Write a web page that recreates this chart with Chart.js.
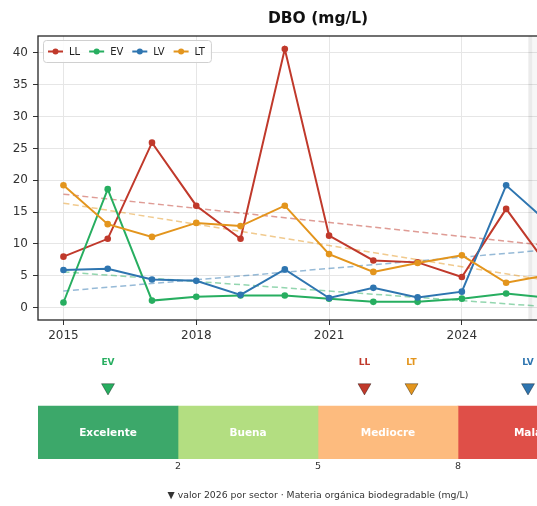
<!DOCTYPE html>
<html>
<head>
<meta charset="utf-8">
<script src="https://cdn.jsdelivr.net/npm/chart.js@4.4.1/dist/chart.umd.min.js"></script>
<style>
  html, body { margin: 0; padding: 0; background: #fff; overflow: hidden; }
  #wrap { width: 640px; }
  canvas { display: block; }
</style>
</head>
<body>
<div id="wrap">
  <canvas id="dboChart" width="640" height="350"></canvas>
  <canvas id="escalaChart" width="640" height="156"></canvas>
</div>
<script>
// Datos (DBO, mg/L)
const anios = [2015, 2016, 2017, 2018, 2019, 2020, 2021, 2022, 2023, 2024, 2025, 2026];
const sectores = ['LL', 'EV', 'LV', 'LT'];
const colores = ['#c0392b', '#27ae60', '#2e75b0', '#e3951d'];

const dboLL = [8.0, 10.8, 25.9, 16.0, 10.8, 40.6, 11.3, 7.4, 7.1, 4.8, 15.5, 6.0];
const dboEV = [0.8, 18.6, 1.1, 1.7, 1.9, 1.9, 1.4, 0.9, 0.9, 1.4, 2.2, 1.5];
const dboLV = [5.9, 6.1, 4.4, 4.2, 2.0, 6.0, 1.5, 3.1, 1.6, 2.5, 19.2, 13.0];
const dboLT = [19.2, 13.1, 11.1, 13.3, 12.8, 16.0, 8.4, 5.6, 7.0, 8.2, 3.9, 5.2];

// tendencias (valor en 2015 y en 2026)
const tendInicio = [17.8, 5.6, 2.6, 16.4];
const tendFin = [9.7, 0.1, 9.1, 4.2];

const xTicks = [2015, 2018, 2021, 2024, 2027];
const yTicks = [0, 5, 10, 15, 20, 25, 30, 35, 40];

// escala de calidad
const clases = ['Excelente', 'Buena', 'Mediocre', 'Mala'];
const umbrales = [2, 5, 8];
const coloresClase = ['#3ca86a', '#b3de81', '#fdbb7e', '#df4f48'];

const FUENTE = '"DejaVu Sans", sans-serif';
const series = [dboLL, dboEV, dboLV, dboLT];

function conAlpha(hex, a) {
  const n = parseInt(hex.slice(1), 16);
  return `rgba(${(n >> 16) & 255}, ${(n >> 8) & 255}, ${n & 255}, ${a})`;
}

// ---------- gráfico principal ----------
const datasets = [];
sectores.forEach((s, i) => {
  datasets.push({
    label: s,
    data: anios.map((a, k) => ({ x: a, y: series[i][k] })),
    borderColor: colores[i],
    backgroundColor: colores[i],
    borderWidth: 2,
    pointRadius: 3.3,
    pointBorderWidth: 0,
    tension: 0,
    order: 4 - i
  });
});
sectores.forEach((s, i) => {
  datasets.push({
    label: s + ' tendencia',
    data: [{ x: anios[0], y: tendInicio[i] }, { x: anios[anios.length - 1], y: tendFin[i] }],
    borderColor: conAlpha(colores[i], 0.5),
    borderWidth: 1.5,
    borderDash: [6, 3.5],
    pointRadius: 0,
    order: 10
  });
});

const fondoProyeccion = {
  id: 'fondoProyeccion',
  beforeDatasetsDraw(chart) {
    const { ctx, chartArea, scales } = chart;
    const x0 = scales.x.getPixelForValue(2025.5);
    const x1 = scales.x.getPixelForValue(2026.5);
    ctx.save();
    ctx.fillStyle = 'rgba(0,0,0,0.03)';
    ctx.fillRect(x0, chartArea.top, x1 - x0, chartArea.bottom - chartArea.top);
    ctx.fillStyle = 'rgba(0,0,0,0.05)';
    ctx.fillRect(x0, chartArea.top, 4, chartArea.bottom - chartArea.top);
    ctx.restore();
  }
};

const marcoYTitulo = {
  id: 'marcoYTitulo',
  afterDatasetsDraw(chart) {
    const { ctx, chartArea } = chart;
    ctx.save();
    ctx.strokeStyle = '#262626';
    ctx.lineWidth = 1.3;
    ctx.strokeRect(chartArea.left, chartArea.top, chartArea.right - chartArea.left, chartArea.bottom - chartArea.top);

    ctx.fillStyle = '#111';
    ctx.font = 'bold 15.5px ' + FUENTE;
    ctx.textAlign = 'center';
    ctx.textBaseline = 'middle';
    ctx.fillText('DBO (mg/L)', (chartArea.left + chartArea.right) / 2, 19);

    // leyenda
    ctx.font = '10px ' + FUENTE;
    ctx.textAlign = 'left';
    const bx = chartArea.left + 5, by = chartArea.top + 4, bh = 22;
    let x = bx + 5;
    const items = sectores.map(s => {
      const w = ctx.measureText(s).width;
      const it = { s, x, w };
      x += 15 + 6 + w + 9;
      return it;
    });
    const bw = x - 9 + 6 - bx;
    ctx.fillStyle = 'rgba(255,255,255,0.85)';
    ctx.strokeStyle = '#d0d0d0';
    ctx.lineWidth = 1;
    ctx.beginPath();
    ctx.roundRect(bx + 0.5, by + 0.5, bw, bh, 3);
    ctx.fill();
    ctx.stroke();
    const cy = by + bh / 2 + 0.5;
    items.forEach((it, i) => {
      ctx.strokeStyle = colores[i];
      ctx.fillStyle = colores[i];
      ctx.lineWidth = 2;
      ctx.beginPath();
      ctx.moveTo(it.x, cy);
      ctx.lineTo(it.x + 15, cy);
      ctx.stroke();
      ctx.beginPath();
      ctx.arc(it.x + 7.5, cy, 3, 0, Math.PI * 2);
      ctx.fill();
      ctx.fillStyle = '#222';
      ctx.fillText(it.s, it.x + 21, cy + 0.5);
    });
    ctx.restore();
  }
};

new Chart(document.getElementById('dboChart'), {
  type: 'line',
  data: { datasets },
  options: {
    responsive: false,
    animation: false,
    events: [],
    layout: { padding: { top: 36, right: 42, left: 0, bottom: 0 } },
    plugins: { legend: { display: false }, tooltip: { enabled: false } },
    scales: {
      x: {
        type: 'linear',
        min: 2014.425,
        max: 2027.075,
        afterBuildTicks: s => { s.ticks = xTicks.map(v => ({ value: v })); },
        afterFit: s => { s.height = 30; },
        border: { display: false },
        grid: { color: '#e6e6e6', tickColor: '#333', tickLength: 5, lineWidth: 1 },
        ticks: { color: '#333', font: { family: FUENTE, size: 12 }, padding: 4, maxRotation: 0, callback: v => String(v) }
      },
      y: {
        min: -1.95,
        max: 42.65,
        afterBuildTicks: s => { s.ticks = yTicks.map(v => ({ value: v })); },
        afterFit: s => { s.width = 38; },
        border: { display: false },
        grid: { color: '#e6e6e6', tickColor: '#333', tickLength: 5, lineWidth: 1 },
        ticks: { color: '#333', font: { family: FUENTE, size: 12 }, padding: 5, callback: v => String(v) }
      }
    }
  },
  plugins: [fondoProyeccion, marcoYTitulo]
});

// ---------- escala de calidad con valor 2026 ----------
const valores2026 = series.map(s => s[s.length - 1]);
const claseDe = v => umbrales.filter(u => v >= u).length;
const clasesSector = valores2026.map(claseDe);
const posMarcador = clasesSector.map((c, i) => {
  const grupo = clasesSector.map((cc, k) => cc === c ? k : -1).filter(k => k >= 0);
  const j = grupo.indexOf(i);
  return c + 0.5 + (j - (grupo.length - 1) / 2) * 0.336;
});

// fila superior: marcadores, fila inferior: barra de clases
const escalaDatasets = clases.map((c, i) => ({
  type: 'bar',
  indexAxis: 'y',
  label: c,
  data: [null, 1],
  backgroundColor: coloresClase[i],
  borderWidth: 0,
  categoryPercentage: 1,
  barPercentage: 1,
  xAxisID: 'x',
  yAxisID: 'y'
}));
escalaDatasets.push({
  type: 'scatter',
  label: 'valor 2026',
  data: posMarcador.map(p => ({ x: p, y: 1.35 })),
  pointStyle: 'triangle',
  rotation: 180,
  pointRadius: 7.5,
  backgroundColor: colores,
  borderColor: 'rgba(0,0,0,0.4)',
  borderWidth: 0.9,
  clip: false,
  xAxisID: 'x',
  yAxisID: 'yM'
});

const textosEscala = {
  id: 'textosEscala',
  afterDatasetsDraw(chart) {
    const { ctx, chartArea } = chart;
    ctx.save();
    ctx.textAlign = 'center';
    ctx.textBaseline = 'middle';
    ctx.font = 'bold 10.5px ' + FUENTE;
    ctx.fillStyle = '#fff';
    clases.forEach((c, i) => {
      const el = chart.getDatasetMeta(i).data[1];
      ctx.fillText(c, (el.x + el.base) / 2, el.y + 1);
    });
    const metaM = chart.getDatasetMeta(clases.length);
    ctx.font = 'bold 9px ' + FUENTE;
    metaM.data.forEach((el, i) => {
      ctx.fillStyle = colores[i];
      ctx.fillText(sectores[i], el.x, el.y - 24.5);
    });
    ctx.font = '9.3px ' + FUENTE;
    ctx.fillStyle = '#333';
    ctx.fillText('\u25BC valor 2026 por sector \u00B7 Materia org\u00E1nica biodegradable (mg/L)',
      (chartArea.left + chartArea.right) / 2, 146);
    ctx.restore();
  }
};

new Chart(document.getElementById('escalaChart'), {
  type: 'bar',
  data: { labels: ['marcadores', 'clases'], datasets: escalaDatasets },
  options: {
    responsive: false,
    animation: false,
    events: [],
    layout: { autoPadding: false, padding: { top: 3, right: 42, left: 38, bottom: 0 } },
    plugins: { legend: { display: false }, tooltip: { enabled: false } },
    scales: {
      x: {
        type: 'linear',
        stacked: true,
        offset: false,
        min: 0,
        max: clases.length,
        afterBuildTicks: s => { s.ticks = umbrales.map((u, k) => ({ value: k + 1 })); },
        afterFit: s => { s.height = 47; },
        border: { display: false },
        grid: { display: false, drawTicks: false, offset: false },
        ticks: { color: '#333', font: { family: FUENTE, size: 9.5 }, padding: 2, maxRotation: 0,
          callback: (v, idx) => String(umbrales[idx]) }
      },
      y: { type: 'category', stacked: true, offset: true, display: false },
      yM: { type: 'linear', display: false, min: 0, max: 2 }
    }
  },
  plugins: [textosEscala]
});
</script>
</body>
</html>
